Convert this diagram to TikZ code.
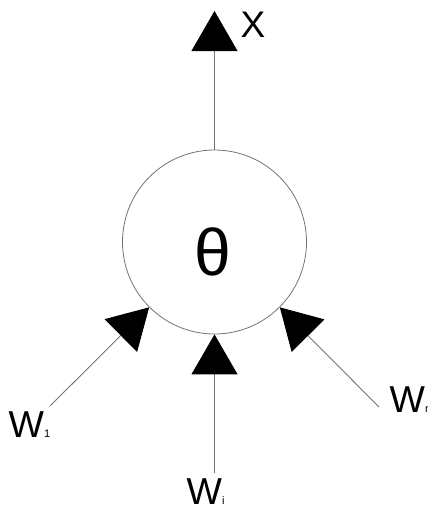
\documentclass[tikz,border=0pt]{standalone}
\usepackage{fontspec}
\setmainfont{Liberation Sans}
\usetikzlibrary{arrows.meta}
\begin{document}
\begin{tikzpicture}[x=1pt,y=-1pt,
  conn/.style={draw=gray!90!black, line width=0.9pt,
    -{Triangle[length=40pt,width=46pt,black]}},
  lbl/.style={inner sep=0pt, anchor=base west, font=\fontsize{37.5}{37.5}\selectfont},
  neuron/.style={circle, draw=gray!90!black, line width=0.8pt, minimum size=184pt, inner sep=0pt}]
\useasboundingbox (0,0) rectangle (428,507);
\node[neuron] (c) at (214.5,242) {};
\node[inner sep=0pt, anchor=base, font=\fontsize{66}{66}\selectfont] (th) at (212.5,275.5) {θ};
\coordinate (top) at (214.5,11);
\coordinate (e1) at (50,406);
\coordinate (ei) at (214.5,473);
\coordinate (en) at (379,407);
\draw[conn] (c.north) -- (top);
\draw[conn] (e1) -- (c.225);
\draw[conn] (ei) -- (c.south);
\draw[conn] (en) -- (c.-45);
\node[lbl, font=\fontsize{37}{37}\selectfont] (x) at (240.5,37) {X};
\node[lbl] (w1) at (8.5,437) {W\fontsize{11}{11}\selectfont 1};
\node[lbl] (wi) at (186.5,504.5) {W\fontsize{11}{11}\selectfont i};
\node[lbl] (wn) at (389.5,412) {W\fontsize{11}{11}\selectfont n};
\end{tikzpicture}
\end{document}
